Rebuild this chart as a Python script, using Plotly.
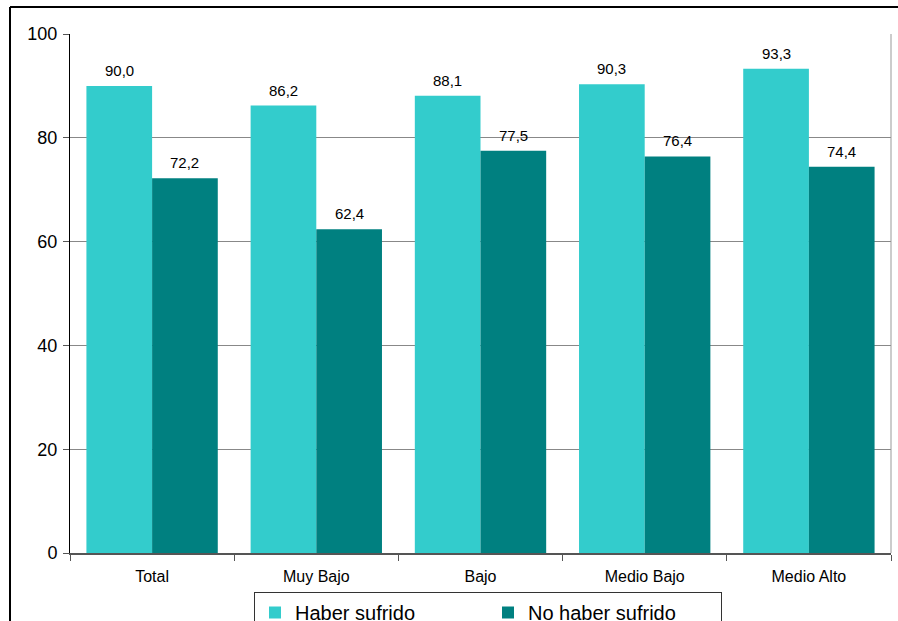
import plotly.graph_objects as go

categories = ["Total", "Muy Bajo", "Bajo", "Medio Bajo", "Medio Alto"]
haber = [90.0, 86.2, 88.1, 90.3, 93.3]
no_haber = [72.2, 62.4, 77.5, 76.4, 74.4]
series_names = ["Haber sufrido", "No haber sufrido"]
y_ticks = [0, 20, 40, 60, 80, 100]
title_text = "Percepción de inseguridad según victimización y estrato (en porcentaje)"

C1 = "#33CCCC"
C2 = "#008080"
FONT = "Liberation Sans, Arial, sans-serif"

W, H = 898, 621
L, R, T, B = 70, 7, 34, 68
pw, ph = W - L - R, H - T - B

def px_x(x):
    return (x - L) / pw

def px_y(ypix):
    # pixel measured from top of page -> paper coordinate
    return (H - B - ypix) / ph

fig = go.Figure()
fig.add_trace(go.Bar(x=categories, y=haber, name=series_names[0],
                     marker=dict(color=C1, line=dict(width=0))))
fig.add_trace(go.Bar(x=categories, y=no_haber, name=series_names[1],
                     marker=dict(color=C2, line=dict(width=0))))

def fmt(v):
    return f"{v:.1f}".replace(".", ",")

bar_w = pw / len(categories) * 0.8 / 2
annotations = []
for i, c in enumerate(categories):
    for vals, sh in ((haber, -bar_w / 2), (no_haber, bar_w / 2)):
        annotations.append(dict(x=c, y=vals[i], text=fmt(vals[i]), showarrow=False,
                                xshift=sh, yshift=5, yanchor="bottom",
                                font=dict(family=FONT, size=15, color="#000")))

annotations.append(dict(x=px_x(708), y=px_y(3), xref="paper", yref="paper",
                        xanchor="right", yanchor="bottom", showarrow=False,
                        text="<b>" + title_text + "</b>",
                        font=dict(family="Liberation Serif, Times New Roman, serif", size=18, color="#000")))

shapes = [
    # outer frame
    dict(type="line", xref="paper", yref="paper", x0=px_x(10), x1=px_x(W + 5),
         y0=px_y(7), y1=px_y(7), line=dict(color="#000", width=2)),
    dict(type="line", xref="paper", yref="paper", x0=px_x(10), x1=px_x(10),
         y0=px_y(7), y1=px_y(H + 5), line=dict(color="#000", width=2)),
    # plot area right border
    dict(type="line", xref="paper", yref="paper", x0=1, x1=1, y0=0, y1=1,
         line=dict(color="#999", width=1)),
]

fig.update_layout(
    width=W, height=H,
    margin=dict(l=L, r=R, t=T, b=B, pad=0, autoexpand=False),
    paper_bgcolor="white", plot_bgcolor="white",
    barmode="group", bargap=0.2, bargroupgap=0,
    separators=",.",
    font=dict(family=FONT, color="#000"),
    showlegend=True,
    legend=dict(orientation="h", x=px_x(254), y=px_y(592), xanchor="left", yanchor="top",
                bordercolor="#333", borderwidth=1, bgcolor="white",
                font=dict(family=FONT, size=20, color="#000"),
                entrywidth=188, entrywidthmode="pixels", itemwidth=30),
    annotations=annotations,
    shapes=shapes,
)
fig.update_xaxes(showgrid=False, showline=True, linecolor="#555", linewidth=2,
                 ticks="outside", tickson="boundaries", ticklen=6, tickcolor="#555",
                 automargin=False, ticklabelstandoff=8,
                 tickfont=dict(family=FONT, size=16, color="#000"))
fig.update_yaxes(range=[0, 100], tickvals=y_ticks, showgrid=True, gridcolor="#888", gridwidth=1,
                 showline=True, linecolor="#000", linewidth=1, zeroline=False,
                 ticks="outside", ticklen=6, tickcolor="#555", automargin=False,
                 ticklabelstandoff=2,
                 tickfont=dict(family=FONT, size=18, color="#000"))

fig.write_html("out.html", config={"displayModeBar": False},
               post_script="document.body.style.margin='0';document.body.style.overflow='hidden';")
